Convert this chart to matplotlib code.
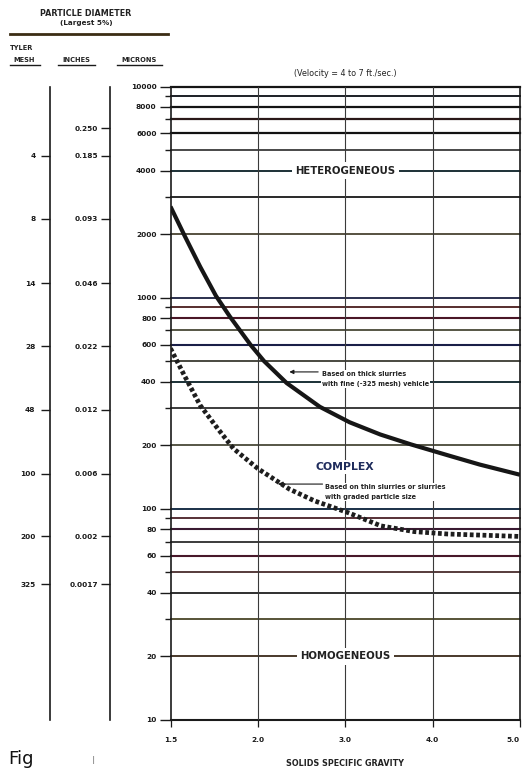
import numpy as np
import matplotlib
matplotlib.use("Agg")
import matplotlib.pyplot as plt
from matplotlib.lines import Line2D
from matplotlib.ticker import NullFormatter, NullLocator

# ---------------- data ----------------
sg_ticks = [1.5, 2.0, 3.0, 4.0, 5.0]
sg_tick_labels = ["1.5", "2.0", "3.0", "4.0", "5.0"]

micron_grid = [10000, 9000, 8000, 7000, 6000, 5000, 4000, 3000, 2000,
               1000, 900, 800, 700, 600, 500, 400, 300, 200,
               100, 90, 80, 70, 60, 50, 40, 30, 20, 10]
micron_labels = [10000, 8000, 6000, 4000, 2000, 1000, 800, 600, 400, 200,
                 100, 80, 60, 40, 20, 10]

mesh_labels = ["4", "8", "14", "28", "48", "100", "200", "325"]
mesh_microns = [4699, 2362, 1168, 589, 295, 147, 74, 44]

inch_labels = ["0.250", "0.185", "0.093", "0.046", "0.022", "0.012",
               "0.006", "0.002", "0.0017"]
inch_microns = [6350, 4699, 2362, 1168, 589, 295, 147, 74, 44]

# thick slurries with fine (-325 mesh) vehicle
thick_sg = [1.50, 1.58, 1.67, 1.76, 1.84, 1.96, 2.07, 2.33, 2.71, 3.05,
            3.40, 3.75, 4.20, 4.54, 5.00]
thick_um = [2700, 1970, 1400, 1020, 813, 595, 501, 394, 304, 257,
            225, 202, 178, 162, 145]

# thin slurries or slurries with graded particle size
thin_sg = [1.50, 1.58, 1.67, 1.77, 1.86, 2.00, 2.36, 2.65, 3.03, 3.41,
           3.79, 4.17, 5.00]
thin_um = [575, 427, 309, 240, 193, 155, 124, 109, 96, 83,
           78, 76, 74]

# ---------------- figure ----------------
W, H = 522, 769
fig = plt.figure(figsize=(W / 100, H / 100), dpi=100)
fig.patch.set_facecolor("white")
TXT = "#222222"

def fx(px):
    return px / W

def fy(py):
    return 1 - py / H

ax_bottom = fy(720)
ax_height = fy(86.5) - ax_bottom
ax = fig.add_axes([fx(170.5), ax_bottom, fx(520) - fx(170.5), ax_height])

# piecewise-linear specific gravity scale (equal spacing between ticks)
_xs = np.array([-10.0] + sg_ticks + [20.0])
_ps = np.array([-23.0, 0, 1, 2, 3, 4, 19.0])

def _fwd(x):
    return np.interp(x, _xs, _ps)

def _inv(p):
    return np.interp(p, _ps, _xs)

ax.set_xscale("function", functions=(_fwd, _inv))
ax.set_yscale("log")
ax.set_xlim(1.5, 5.0)
ax.set_ylim(10, 10000)
ax.set_facecolor("white")

grid_colors = ["#151515", "#1c1f26", "#141414", "#2a1818", "#121212", "#2a2a2a",
               "#1c3036", "#181818", "#3a3420",
               "#1a2040", "#4a1c1c", "#4a1626", "#3a3a26", "#1a1f48", "#2a2a20",
               "#1a3036", "#1a1a1a", "#3a3a28",
               "#1a3048", "#4a2026", "#3a1a32", "#1a1a1a", "#48182a", "#3a1a1a",
               "#1f1f1f", "#4a4528", "#3a2a1a", "#1a1a1a"]
grid_lw = [1.6, 1.4, 1.6, 1.6, 1.6, 1.2, 1.4, 1.3, 1.2,
           1.3, 1.3, 1.5, 1.2, 1.5, 1.2, 1.4, 1.2, 1.2,
           1.4, 1.3, 1.5, 1.2, 1.5, 1.2, 1.3, 1.3, 1.3, 1.5]
for v, c, lw in zip(micron_grid, grid_colors, grid_lw):
    ax.axhline(v, color=c, lw=lw, zorder=1, clip_on=False)

for v in sg_ticks[1:-1]:
    ax.axvline(v, color="#3a3a3a", lw=0.8, zorder=1)

for s in ["top", "bottom"]:
    ax.spines[s].set_visible(False)
for s in ["left", "right"]:
    ax.spines[s].set_linewidth(1.2)
    ax.spines[s].set_color("#1a1a1a")

ax.set_yticks(micron_labels, labels=[str(v) for v in micron_labels])
ax.set_yticks([v for v in micron_grid if v not in micron_labels], minor=True)
ax.yaxis.set_minor_formatter(NullFormatter())
ax.tick_params(axis="y", which="major", direction="out", length=8, width=1.0,
               pad=2, labelsize=5.3, colors="#1a1a1a")
ax.tick_params(axis="y", which="minor", direction="out", length=4, width=1.0,
               colors="#1a1a1a")
for t in ax.get_yticklabels():
    t.set_fontweight("bold")

ax.set_xticks(sg_ticks, labels=sg_tick_labels)
ax.xaxis.set_minor_locator(NullLocator())
ax.tick_params(axis="x", which="major", direction="out", length=5, width=0.9,
               pad=7, labelsize=5.3, colors="#1a1a1a")
xlabels = ax.get_xticklabels()
for t in xlabels:
    t.set_fontweight("bold")
xlabels[-1].set_horizontalalignment("right")

# curves
ax.plot(thick_sg, thick_um, color="#161616", lw=3.0, zorder=5,
        solid_capstyle="butt", solid_joinstyle="round")
ax.plot(thin_sg, thin_um, color="#1e1e1e", lw=3.4, zorder=5,
        linestyle=(0, (0.8, 0.55)), dash_capstyle="butt")

# region labels
box = dict(facecolor="white", edgecolor="none", boxstyle="square,pad=0.35")
ax.text(3.0, 4000, "HETEROGENEOUS", ha="center", va="center", fontsize=7.3,
        fontweight="bold", color=TXT, bbox=box, zorder=3)
ax.text(3.0, 20, "HOMOGENEOUS", ha="center", va="center", fontsize=7.3,
        fontweight="bold", color=TXT, bbox=box, zorder=3)
ax.text(3.0, 158, "COMPLEX", ha="center", va="center", fontsize=7.8,
        fontweight="bold", color="#1f2c5c",
        bbox=dict(facecolor="white", edgecolor="none", boxstyle="square,pad=0.15"),
        zorder=3)

box2 = dict(facecolor="white", edgecolor="none", boxstyle="square,pad=0.15")
ax.text(2.73, 412, "Based on thick slurries\nwith fine (-325 mesh) vehicle",
        ha="left", va="center", fontsize=4.7, fontweight="bold", color=TXT,
        linespacing=1.75, bbox=box2, zorder=3)
ax.annotate("", xy=(2.36, 445), xytext=(2.69, 445),
            arrowprops=dict(arrowstyle="-|>", lw=0.8, color="#1a1a1a",
                            mutation_scale=6, shrinkA=0, shrinkB=0), zorder=4)

ax.text(2.77, 120, "Based on thin slurries or slurries\nwith graded particle size",
        ha="left", va="center", fontsize=4.7, fontweight="bold", color=TXT,
        linespacing=1.75, bbox=box2, zorder=3)
ax.annotate("", xy=(2.23, 131), xytext=(2.74, 131),
            arrowprops=dict(arrowstyle="-|>", lw=0.8, color="#1a1a1a",
                            mutation_scale=7, shrinkA=0, shrinkB=0), zorder=4)

# ---------------- left particle-size scales ----------------
def side_axis(px, locs, labels, pad):
    a = fig.add_axes([fx(px), ax_bottom, 0.0005, ax_height])
    a.set_yscale("log")
    a.set_ylim(10, 10000)
    a.set_xticks([])
    for s in ["top", "bottom", "right"]:
        a.spines[s].set_visible(False)
    a.spines["left"].set_linewidth(1.2)
    a.spines["left"].set_color("#1a1a1a")
    a.patch.set_alpha(0)
    a.set_yticks(locs, labels=labels)
    a.yaxis.set_minor_locator(NullLocator())
    a.tick_params(axis="y", which="major", direction="out", length=6.5,
                  width=1.0, pad=pad, labelsize=5.3, colors="#1a1a1a")
    for t in a.get_yticklabels():
        t.set_fontweight("bold")
    return a

side_axis(50, mesh_microns, mesh_labels, 4.0)
side_axis(110, inch_microns, inch_labels, 2.0)

# ---------------- headers ----------------
fig.text(fx(86), fy(13), "PARTICLE DIAMETER", ha="center", va="center",
         fontsize=5.8, fontweight="bold", color=TXT)
fig.text(fx(86), fy(23), "(Largest 5%)", ha="center", va="center",
         fontsize=5.2, fontweight="bold", color=TXT)
fig.add_artist(Line2D([fx(10), fx(168)], [fy(34), fy(34)], lw=2.0,
                      color="#3b2d14"))
fig.text(fx(10), fy(48), "TYLER", ha="left", va="center", fontsize=4.8,
         fontweight="bold", color=TXT)
fig.text(fx(24), fy(60), "MESH", ha="center", va="center", fontsize=4.8,
         fontweight="bold", color=TXT)
fig.text(fx(76), fy(60), "INCHES", ha="center", va="center", fontsize=4.8,
         fontweight="bold", color=TXT)
fig.text(fx(139), fy(60), "MICRONS", ha="center", va="center", fontsize=4.8,
         fontweight="bold", color=TXT)
for x0, x1 in [(10, 40), (58, 95), (117, 162)]:
    fig.add_artist(Line2D([fx(x0), fx(x1)], [fy(65), fy(65)], lw=1.0,
                          color="#1a1a1a"))

fig.text(fx(345), fy(73), "(Velocity = 4 to 7 ft./sec.)", ha="center",
         va="center", fontsize=5.8, color=TXT)
fig.text(fx(345), fy(763), "SOLIDS SPECIFIC GRAVITY", ha="center",
         va="center", fontsize=5.8, fontweight="bold", color=TXT)

fig.text(fx(8), fy(764), "Fig", ha="left", va="baseline", fontsize=13,
         color="#111111")
fig.text(fx(92), fy(764), "l", ha="left", va="baseline", fontsize=8,
         color="#9a9a9a")

fig.savefig("out.png", dpi=100, facecolor="white")
